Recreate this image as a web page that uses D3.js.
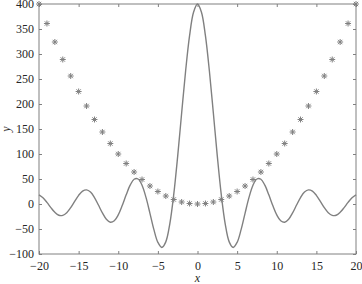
<!DOCTYPE html>
<html>
<head>
<meta charset="utf-8">
<script src="https://cdn.jsdelivr.net/npm/d3@7"></script>
<style>
  body { margin: 0; background: #fff; }
  svg { display: block; }
  text { font-family: "Liberation Serif", "Times New Roman", serif; fill: #262626; }
</style>
</head>
<body>
<svg width="362" height="284"></svg>
<script>
// asterisk series: x, y
var starX = [-20, -19, -18, -17, -16, -15, -14, -13, -12, -11, -10, -9, -8, -7, -6, -5, -4, -3, -2, -1, 0,
    1, 2, 3, 4, 5, 6, 7, 8, 9, 10, 11, 12, 13, 14, 15, 16, 17, 18, 19, 20];
var starY = [400, 361, 324, 289, 256, 225, 196, 169, 144, 121, 100, 81, 64, 49, 36, 25, 16, 9, 4, 1, 0,
    1, 4, 9, 16, 25, 36, 49, 64, 81, 100, 121, 144, 169, 196, 225, 256, 289, 324, 361, 400];

// solid line: sampled every 0.5 along x
var lineX = [-20, -19.5, -19, -18.5, -18, -17.5, -17, -16.5, -16, -15.5, -15, -14.5, -14, -13.5, -13, -12.5,
    -12, -11.5, -11, -10.5, -10, -9.5, -9, -8.5, -8, -7.5, -7, -6.5, -6, -5.5, -5, -4.5, -4, -3.5, -3, -2.5,
    -2, -1.5, -1, -0.5, 0, 0.5, 1, 1.5, 2, 2.5, 3, 3.5, 4, 4.5, 5, 5.5, 6, 6.5, 7, 7.5, 8, 8.5, 9, 9.5,
    10, 10.5, 11, 11.5, 12, 12.5, 13, 13.5, 14, 14.5, 15, 15.5, 16, 16.5, 17, 17.5, 18, 18.5, 19, 19.5, 20];
var lineY = [18.3, 12.4, 3.2, -7.3, -16.7, -22.5, -22.6, -17.3, -7.2, 5.3, 17.3, 25.8, 28.3, 23.8, 12.9, -2.1,
    -17.9, -30.5, -36.4, -33.5, -21.8, -3.2, 18.3, 37.6, 49.5, 50.0, 37.5, 13.2, -18.6, -51.3, -76.7, -86.9,
    -75.7, -40.1, 18.8, 95.8, 181.9, 266.0, 336.6, 383.6, 400, 383.6, 336.6, 266.0, 181.9, 95.8, 18.8, -40.1,
    -75.7, -86.9, -76.7, -51.3, -18.6, 13.2, 37.5, 50.0, 49.5, 37.6, 18.3, -3.2, -21.8, -33.5, -36.4, -30.5,
    -17.9, -2.1, 12.9, 23.8, 28.3, 25.8, 17.3, 5.3, -7.2, -17.3, -22.6, -22.5, -16.7, -7.3, 3.2, 12.4, 18.3];

var xTicks = [-20, -15, -10, -5, 0, 5, 10, 15, 20];
var yTicks = [-100, -50, 0, 50, 100, 150, 200, 250, 300, 350, 400];

var svg = d3.select('svg');
var margin = { top: 4, right: 6, bottom: 30, left: 39 };
var width = svg.attr('width') - margin.left - margin.right;
var height = svg.attr('height') - margin.top - margin.bottom;

var g = svg.append('g')
    .attr('transform', 'translate(' + margin.left + ',' + margin.top + ')');

var xScale = d3.scaleLinear().domain([-20, 20]).range([0, width]);
var yScale = d3.scaleLinear().domain([-100, 400]).range([height, 0]);

var axisColor = '#808080';

function fmt(d) { return d < 0 ? '\u2212' + Math.abs(d) : d; }

function styleAxis(sel) {
    sel.select('.domain').remove();
    sel.selectAll('line').attr('stroke', axisColor);
    sel.selectAll('text').attr('font-size', 12).attr('fill', '#262626')
        .style('font-family', '"Liberation Serif", serif');
}

g.append('g')
    .attr('transform', 'translate(0,' + height + ')')
    .call(d3.axisBottom(xScale).tickValues(xTicks).tickSizeInner(-3).tickSizeOuter(0).tickPadding(7.5)
        .tickFormat(fmt))
    .call(styleAxis);

g.append('g')
    .call(d3.axisTop(xScale).tickValues(xTicks).tickSizeInner(-3).tickSizeOuter(0).tickFormat(''))
    .call(styleAxis);

g.append('g')
    .call(d3.axisLeft(yScale).tickValues(yTicks).tickSizeInner(-3).tickSizeOuter(0).tickPadding(5)
        .tickFormat(fmt))
    .call(styleAxis);

g.append('g')
    .attr('transform', 'translate(' + width + ',0)')
    .call(d3.axisRight(yScale).tickValues(yTicks).tickSizeInner(-3).tickSizeOuter(0).tickFormat(''))
    .call(styleAxis);

// box
g.append('rect')
    .attr('width', width)
    .attr('height', height)
    .attr('fill', 'none')
    .attr('stroke', axisColor)
    .attr('stroke-width', 1);

var lineData = lineX.map(function (x, i) { return [x, lineY[i]]; });
g.append('path')
    .datum(lineData)
    .attr('fill', 'none')
    .attr('stroke', '#808080')
    .attr('stroke-width', 1.4)
    .attr('d', d3.line()
        .x(function (d) { return xScale(d[0]); })
        .y(function (d) { return yScale(d[1]); })
        .curve(d3.curveCatmullRom));

// asterisk markers
var r = 3;
var asterisk = 'M' + (-r) + ',0L' + r + ',0M0,' + (-r) + 'L0,' + r +
    'M' + (-r * 0.72) + ',' + (-r * 0.72) + 'L' + (r * 0.72) + ',' + (r * 0.72) +
    'M' + (-r * 0.72) + ',' + (r * 0.72) + 'L' + (r * 0.72) + ',' + (-r * 0.72);
g.append('g').selectAll('path')
    .data(starX)
    .enter().append('path')
    .attr('transform', function (d, i) { return 'translate(' + xScale(d) + ',' + yScale(starY[i]) + ')'; })
    .attr('d', asterisk)
    .attr('fill', 'none')
    .attr('stroke', '#808080')
    .attr('stroke-width', 1);

// axis labels
svg.append('text')
    .attr('x', margin.left + width / 2)
    .attr('y', 282)
    .attr('text-anchor', 'middle')
    .attr('font-size', 12)
    .attr('font-style', 'italic')
    .text('x');

svg.append('text')
    .attr('transform', 'translate(10,' + (margin.top + height / 2) + ') rotate(-90)')
    .attr('text-anchor', 'middle')
    .attr('font-size', 12)
    .attr('font-style', 'italic')
    .text('y');
</script>
</body>
</html>
